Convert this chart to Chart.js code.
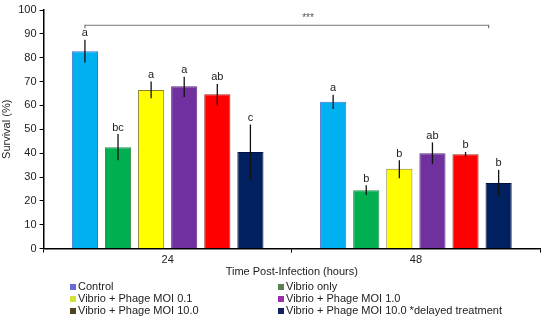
<!DOCTYPE html>
<html>
<head>
<script src="https://cdn.jsdelivr.net/npm/chart.js"></script>
<style>
  body { margin: 0; background: #fff; }
  #wrap { position: relative; width: 550px; height: 323px; }
</style>
</head>
<body>
<div id="wrap"><canvas id="chart" width="550" height="323"></canvas></div>
<script>
// data
const hours = ['24', '48'];
const groups = ['Control', 'Vibrio only', 'Vibrio + Phage MOI 0.1', 'Vibrio + Phage MOI 1.0', 'Vibrio + Phage MOI 10.0', 'Vibrio + Phage MOI 10.0 *delayed treatment'];
const control = [82.7, 61.5];
const vibrioOnly = [42.5, 24.5];
const moi01 = [66.5, 33.5];
const moi1 = [68, 40];
const moi10 = [64.7, 39.5];
const moi10delayed = [40.5, 27.5];
const errHi = [[87.5, 64.5], [48, 26.5], [70, 37], [72, 44.5], [69, 40.5], [52, 33]];
const errLo = [[78, 58.5], [37, 22.5], [63, 29.5], [63.5, 35.5], [60, 38.5], [29, 22]];
const letters = [['a', 'a'], ['bc', 'b'], ['a', 'b'], ['a', 'ab'], ['ab', 'b'], ['c', 'b']];

const barColors = ['#00b0f0', '#00b050', '#ffff00', '#7030a0', '#ff0000', '#002060'];
const edgeColors = ['#3f6fd0', '#2f8a4f', '#8a7f30', '#5a2a80', '#9a2a2a', '#001040'];
const keyColors = ['#6b6bd8', '#5a8050', '#d4e03a', '#9a30a8', '#4f4422', '#13205e'];

const allSeries = [control, vibrioOnly, moi01, moi1, moi10, moi10delayed];
const FONT = '"Liberation Sans", Arial, sans-serif';

const errorBars = {
  id: 'errorBars',
  afterDatasetsDraw(chart) {
    const ctx = chart.ctx, y = chart.scales.y;
    ctx.save();
    chart.data.datasets.forEach((ds, d) => {
      chart.getDatasetMeta(d).data.forEach((bar, i) => {
        const yh = y.getPixelForValue(errHi[d][i]);
        const yl = y.getPixelForValue(errLo[d][i]);
        ctx.strokeStyle = '#111';
        ctx.lineWidth = 1.3;
        ctx.beginPath();
        ctx.moveTo(bar.x, yh);
        ctx.lineTo(bar.x, yl);
        ctx.stroke();
        ctx.fillStyle = '#222';
        ctx.font = '11px ' + FONT;
        ctx.textAlign = 'center';
        ctx.textBaseline = 'bottom';
        ctx.fillText(letters[d][i], bar.x, yh - 1);
      });
    });
    // significance bracket
    const x0 = chart.getDatasetMeta(0).data[0].x;
    const x1 = chart.getDatasetMeta(5).data[1].x - 10;
    const yb = y.getPixelForValue(93.6);
    ctx.strokeStyle = '#777';
    ctx.lineWidth = 1.2;
    ctx.beginPath();
    ctx.moveTo(x0, yb + 3);
    ctx.lineTo(x0, yb);
    ctx.lineTo(x1, yb);
    ctx.lineTo(x1, yb + 3);
    ctx.stroke();
    ctx.fillStyle = '#555';
    ctx.font = '10px ' + FONT;
    ctx.textAlign = 'center';
    ctx.textBaseline = 'bottom';
    ctx.fillText('***', 308, yb - 2);
    // legend, two columns
    ctx.font = '11px ' + FONT;
    ctx.textAlign = 'left';
    ctx.textBaseline = 'middle';
    groups.forEach((g, k) => {
      const col = k % 2, row = Math.floor(k / 2);
      const lx = col === 0 ? 70 : 278;
      const ly = 287 + row * 12;
      ctx.fillStyle = keyColors[k];
      ctx.fillRect(lx, ly - 3, 6, 6);
      ctx.fillStyle = '#222';
      ctx.fillText(g, lx + 8, ly);
    });
    ctx.restore();
  }
};

new Chart(document.getElementById('chart'), {
  type: 'bar',
  data: {
    labels: hours,
    datasets: allSeries.map((vals, k) => ({
      label: groups[k],
      data: vals,
      backgroundColor: barColors[k],
      borderColor: edgeColors[k],
      borderWidth: 1,
      categoryPercentage: 0.8,
      barPercentage: 0.79
    }))
  },
  options: {
    responsive: false,
    animation: false,
    layout: { padding: { left: 0, right: 10, top: 10, bottom: 44 } },
    plugins: { legend: { display: false }, tooltip: { enabled: false } },
    scales: {
      x: {
        grid: { offset: true, drawOnChartArea: false, tickLength: 4, color: '#000' },
        border: { color: '#000', width: 1.5 },
        ticks: { color: '#222', font: { size: 11, family: FONT }, padding: 1 },
        title: { display: true, text: 'Time Post-Infection (hours)', color: '#222', font: { size: 11, family: FONT }, padding: { top: -2, bottom: 0 } }
      },
      y: {
        min: 0, max: 100,
        ticks: { stepSize: 10, color: '#222', font: { size: 11, family: FONT }, padding: 3 },
        grid: { drawOnChartArea: false, tickLength: 4, color: '#000' },
        border: { color: '#000', width: 1.5 },
        title: { display: true, text: 'Survival (%)', color: '#222', font: { size: 11, family: FONT }, padding: { top: 0, bottom: 2 } }
      }
    }
  },
  plugins: [errorBars]
});
</script>
</body>
</html>
